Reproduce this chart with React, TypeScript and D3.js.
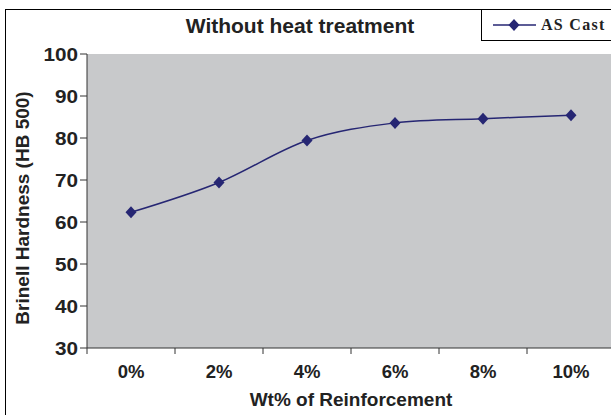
import React from "react";
import * as d3 from "d3";

const categories = ["0%", "2%", "4%", "6%", "8%", "10%"];
const hardness = [62.3, 69.4, 79.4, 83.6, 84.6, 85.4];
const yTicks = [30, 40, 50, 60, 70, 80, 90, 100];
const seriesName = "AS Cast";

export default function App() {
  const W = 611, H = 415;
  const left = 87, top = 54, bottom = 348, right = 615;
  const x = d3.scaleBand<string>().domain(categories).range([left, right]);
  const y = d3.scaleLinear().domain([30, 100]).range([bottom, top]);
  const pts: [number, number][] = categories.map((c, i) => [x(c)! + x.bandwidth() / 2, y(hardness[i])]);
  const line = d3.line().curve(d3.curveCatmullRom.alpha(0))(pts) || "";
  const color = "#262673";
  const diamond = (cx: number, cy: number) =>
    `M${cx},${cy - 6}L${cx + 5.5},${cy}L${cx},${cy + 6}L${cx - 5.5},${cy}Z`;
  const font = "'Liberation Sans', Arial, sans-serif";
  const tickX = categories.map((c) => x(c)!).concat([right]);
  return (
    <svg width={W} height={H} style={{ position: "absolute", left: 0, top: 0 }}>
      <rect x={0} y={0} width={W} height={H} fill="#fff" />
      <rect x={5.5} y={9.5} width={W + 10} height={H + 10} fill="none" stroke="#000" strokeWidth={1} />
      <rect x={left} y={top} width={right - left} height={bottom - top} fill="#c8c9cb" />
      <text x={300} y={33} textAnchor="middle" fontFamily={font} fontWeight="bold" fontSize={21} fill="#222">
        Without heat treatment
      </text>
      {/* legend */}
      <rect x={481.5} y={9.5} width={140} height={31} fill="#fff" stroke="#000" strokeWidth={1} />
      <line x1={493} x2={536} y1={25} y2={25} stroke={color} strokeWidth={1.5} />
      <path d={diamond(514, 25)} fill={color} />
      <text x={541} y={30} fontFamily="'Liberation Serif', 'Times New Roman', serif" fontWeight="bold" fontSize={16} letterSpacing={1.3} fill="#222">
        {seriesName}
      </text>
      {/* y axis */}
      <line x1={left} x2={left} y1={top} y2={bottom} stroke="#333" strokeWidth={1} />
      {yTicks.map((t) => (
        <g key={t}>
          <line x1={left - 7} x2={left} y1={y(t)} y2={y(t)} stroke="#333" />
          <text
            transform={`translate(78,${y(t) + 6.5}) scale(1.12,1)`}
            textAnchor="end"
            fontFamily={font}
            fontWeight="bold"
            fontSize={18.5}
            fill="#222"
          >
            {t}
          </text>
        </g>
      ))}
      <text
        transform={`translate(29,${208}) rotate(-90)`}
        textAnchor="middle"
        fontFamily={font}
        fontWeight="bold"
        fontSize={19}
        fill="#222"
      >
        Brinell Hardness (HB 500)
      </text>
      {/* x axis */}
      <line x1={left} x2={right} y1={bottom} y2={bottom} stroke="#333" strokeWidth={1} />
      {tickX.map((t, i) => (
        <line key={i} x1={t} x2={t} y1={bottom} y2={bottom + 6} stroke="#333" />
      ))}
      {categories.map((c) => (
        <text key={c} x={x(c)! + x.bandwidth() / 2} y={378} textAnchor="middle" fontFamily={font} fontWeight="bold" fontSize={18.5} fill="#222">
          {c}
        </text>
      ))}
      <text x={351} y={406} textAnchor="middle" fontFamily={font} fontWeight="bold" fontSize={19} fill="#222">
        Wt% of Reinforcement
      </text>
      {/* series */}
      <path d={line} fill="none" stroke={color} strokeWidth={1.5} />
      {pts.map(([px, py], i) => (
        <path key={i} d={diamond(px, py)} fill={color} />
      ))}
    </svg>
  );
}
